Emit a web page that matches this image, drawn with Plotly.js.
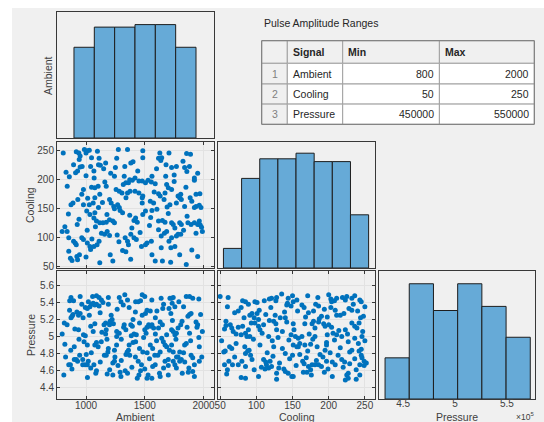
<!DOCTYPE html>
<html><head><meta charset="utf-8">
<script src="https://cdn.plot.ly/plotly-3.0.1.min.js"></script>
<style>html,body{margin:0;padding:0;background:#fff}#chart{width:544px;height:422px}</style>
</head><body><div id="chart"></div><script>
// ---------- data ----------
const signalNames = ['Ambient', 'Cooling', 'Pressure'];
const signalMin = [800, 50, 450000];
const signalMax = [2000, 250, 550000];
const tableHeader = ['', 'Signal', 'Min', 'Max'];
const tableTitle = 'Pulse Amplitude Ranges';

// histograms (bin edges + counts)
const ambientEdges = [800, 1000, 1200, 1400, 1600, 1800, 2000];
const ambientCounts = [36, 44, 44, 45, 45, 36];
const coolingEdges = [50, 75, 100, 125, 150, 175, 200, 225, 250];
const coolingCounts = [7, 32, 39, 39, 41, 38, 38, 19];
const pressureEdges = [440000, 460000, 480000, 500000, 520000, 540000, 560000];
const pressureCounts = [20, 56, 43, 56, 45, 30];

// scatter: Ambient vs Cooling
const acAmbient = [806,917,939,950,942,986,1011,1028,1000,1097,1047,1111,1106,1275,1353,1483,1483,1400,1381,1628,1617,1644,1636,1706,1681,1728,1856,1889,1825,1839,1858,1922,1769,
894,950,928,911,858,967,1039,1067,1069,1122,1167,1250,1242,1261,1317,1325,1339,1361,1372,1394,1417,1450,1478,1506,1528,1556,1589,1561,1678,1686,1700,1672,1728,1783,1806,1797,1886,1936,1969,1922,978,964,1047,1075,1103,1172,1256,1283,1306,1353,1375,1417,1450,1483,1478,1478,1547,1575,1617,1631,1664,1714,1769,1811,1839,1936,1964,1978,
872,889,978,1028,1061,1106,1075,1014,1117,1200,1214,1236,1269,1283,1242,1311,1372,1422,1408,1436,1483,1506,1561,1603,1617,1650,1672,1728,1742,1756,1797,1811,1867,1894,1922,1950,1964,1972,1983,1922,1006,1033,1067,1089,1117,1144,1172,1200,1228,1242,1178,1075,
797,839,853,894,908,917,853,867,881,928,944,964,978,1011,1033,1067,1039,1094,1111,1131,1158,1200,1206,1228,1311,1339,1333,1353,1361,1381,1408,1428,1472,1506,1519,1556,1589,1650,1617,1667,1686,1706,1728,1769,1783,1806,1722,1756,1797,1853,1950,1936,1561,1117,922,
830,1000,1150,1210,1330,1440,1600,1750,1880,1950,820,925,1010,1080,1180,1265,1390,1460,1540,1640,1830,1990,840,1160,1580,1750,1850,930,1140,1340,1690,1900,850,940,1290,1550,1700,1860,1050,1280,1640,1900,1000,1380,1720];
const acCooling = [245,247,245,240,234,251,249,250,245,248,237,236,225,251,251,249,237,230,228,245,236,237,232,245,225,220,244,243,231,220,213,202,222,
225,221,214,211,204,222,222,214,202,224,228,220,205,236,191,205,194,194,199,198,202,197,197,194,198,195,192,205,205,191,185,176,182,171,174,168,168,174,175,198,182,174,186,185,188,188,182,179,176,176,179,179,176,171,168,159,162,159,175,171,165,156,159,165,153,153,155,151,
156,159,156,156,159,151,168,167,174,165,159,153,156,151,149,142,138,133,129,126,139,145,146,148,128,129,126,125,122,116,125,122,125,122,125,122,128,121,117,151,145,139,133,128,125,125,126,130,128,125,139,142,
110,110,99,93,90,87,76,64,60,61,70,99,96,90,84,84,79,87,93,107,105,103,70,59,77,75,99,93,87,105,99,96,84,87,90,93,59,59,113,107,110,93,99,102,105,105,82,84,70,53,67,107,70,56,67,
212,206,218,210,222,214,218,207,222,210,118,122,112,118,110,104,116,108,120,102,112,110,188,195,178,196,186,165,160,168,152,162,140,131,146,134,141,136,97,92,82,78,66,62,57];

// scatter: Ambient vs Pressure
const apAmbient = [797,811,839,853,867,861,872,894,881,889,872,900,917,928,900,936,950,922,950,964,936,972,992,1011,972,1019,978,994,983,994,1011,1033,1047,1061,1075,1089,1111,1028,1011,1056,1089,1061,1075,1075,1089,1103,1067,1089,1083,1111,1131,1144,1153,1167,1167,1178,1172,1186,1172,1214,1228,1242,1242,1200,1222,1233,1261,1283,1261,1228,1297,1283,1297,1317,1339,1325,1333,1353,1353,1367,1367,1361,1372,1381,1394,1400,1422,1444,1464,1422,1408,1428,1436,1450,1464,1444,1472,1483,1478,1500,1478,1506,1500,1519,1533,1547,1561,1575,1519,1547,1603,1511,1547,1567,1519,1528,1567,1589,1611,1631,1617,1631,1625,1631,1644,1658,1672,1686,1639,1653,1672,1700,1686,1714,1728,1742,1733,1756,1706,1722,1728,1742,1756,1769,1728,1742,1742,1756,1769,1783,1797,1797,1811,1783,1806,1817,1819,1839,1853,1853,1881,1908,1867,1881,1894,1881,1894,1908,1922,1908,1922,1936,1950,1944,1964,1964,
1012,1180,1290,1560,1700,1870,
826,880,946,1002,1040,1121,1156,1201,1246,1272,1300,1340,1390,1420,1500,1540,1585,1660,1700,1770,1840,1875,1985,
820,870,940,1045,1130,1190,1260,1300,1350,1400,1455,1490,1520,1600,1710,1765,1830,1890,1960,
815,905,1040,1135,1205,1320,1385,1455,1590,1650,1735,1860,1990,
860,975,1120,1190,1265,1420,1590,1660,1830,1975,
1020,1190,1330,1560,1790,1960];
const apPressure = [503000,455000,514000,467000,467000,542000,546000,542000,524000,526000,522000,473000,473000,471000,488000,525000,527000,529000,547000,538000,508000,467000,467000,467000,473000,471000,502000,501000,494000,534000,533000,535000,538000,539000,537000,538000,536000,525000,490000,547000,548000,506000,515000,490000,493000,488000,467000,460000,457000,546000,543000,540000,514000,516000,503000,497000,478000,482000,508000,525000,469000,471000,484000,514000,520000,515000,506000,504000,500000,455000,453000,546000,541000,537000,508000,514000,460000,457000,543000,534000,490000,484000,478000,514000,512000,520000,541000,541000,542000,494000,503000,502000,451000,455000,460000,471000,467000,482000,549000,547000,525000,527000,508000,511000,514000,512000,514000,510000,531000,530000,530000,504000,490000,486000,451000,455000,465000,467000,478000,482000,510000,517000,457000,453000,498000,494000,490000,488000,545000,533000,471000,473000,502000,545000,545000,546000,539000,535000,533000,527000,508000,506000,502000,504000,490000,482000,471000,467000,463000,476000,482000,471000,473000,510000,514000,518000,457000,490000,492000,547000,547000,545000,524000,526000,527000,504000,478000,475000,467000,459000,453000,517000,514000,511000,488000,471000,
452000,456000,458000,451000,455000,458000,
476000,462000,478000,479000,463000,470000,478000,461000,476000,466000,472000,479000,464000,476000,462000,474000,478000,463000,466000,476000,470000,463000,476000,
491000,484000,497000,481000,494000,486000,490000,497000,482000,493000,486000,499000,481000,495000,484000,497000,481000,495000,499000,
516000,509000,512000,505000,518000,511000,501000,516000,503000,514000,519000,511000,506000,
531000,522000,528000,538000,532000,529000,522000,538000,535000,526000,
541000,546000,549000,543000,541000,544000];

// scatter: Cooling vs Pressure
const cpCooling = [50,61,81,89,79,75,98,101,111,121,128,127,135,144,150,143,142,151,163,166,171,179,186,190,203,204,211,219,223,225,232,236,243,234,228,232,203,211,216,
58,64,66,68,75,81,79,85,89,91,94,97,101,103,98,103,105,108,91,87,124,127,128,126,133,140,151,148,154,158,163,151,167,177,179,181,187,193,195,200,206,211,218,223,232,239,242,248,227,246,197,181,167,
57,55,66,62,56,67,75,80,85,88,84,94,97,103,85,59,110,114,117,119,124,121,128,131,128,140,144,149,151,150,156,158,164,166,170,165,172,177,181,186,190,194,188,195,197,209,218,222,225,227,229,232,241,242,245,243,246,249,252,243,223,227,140,
70,92,107,113,123,132,138,146,155,160,169,175,183,192,199,205,213,220,229,236,238,249,112,85,60,197,
52,63,72,90,96,105,115,122,136,145,160,171,178,184,202,208,216,236,245,250,130,175,
56,72,93,110,117,136,142,152,173,186,204,214,226,236,247,198,118,58,
60,70,83,104,113,120,139,148,157,168,172,194,198,209,221,240,244,250,182,
85,118,156,185,200,208,245,
79,176,205,238];
const cpPressure = [547000,546000,542000,538000,534000,530000,541000,540000,542000,545000,546000,542000,550000,545000,548000,539000,537000,541000,537000,534000,548000,530000,536000,524000,544000,541000,545000,546000,543000,547000,545000,548000,543000,538000,533000,531000,534000,525000,525000,
518000,514000,510000,506000,511000,512000,502000,504000,508000,525000,527000,522000,527000,520000,516000,512000,508000,504000,500000,500000,518000,515000,508000,525000,522000,522000,515000,502000,500000,498000,500000,490000,515000,515000,518000,510000,521000,515000,512000,514000,504000,502000,500000,508000,516000,510000,516000,524000,494000,500000,493000,500000,490000,
483000,482000,486000,471000,467000,467000,467000,471000,480000,483000,488000,473000,461000,453000,451000,456000,473000,467000,463000,471000,488000,465000,457000,463000,450000,459000,457000,453000,453000,478000,488000,488000,471000,468000,458000,458000,465000,467000,467000,467000,465000,458000,479000,484000,490000,467000,473000,470000,455000,457000,482000,484000,492000,483000,478000,467000,475000,471000,469000,455000,449000,451000,480000,
476000,478000,464000,470000,477000,469000,462000,474000,466000,479000,475000,461000,472000,476000,462000,470000,478000,464000,468000,474000,461000,466000,462000,465000,461000,471000,
495000,488000,492000,484000,497000,490000,481000,495000,486000,496000,492000,483000,497000,488000,481000,496000,487000,498000,485000,495000,499000,491000,
509000,503000,516000,514000,500000,506000,517000,508000,503000,517000,511000,507000,503000,512000,506000,502000,519000,513000,
535000,528000,522000,531000,526000,534000,529000,536000,530000,523000,528000,532000,523000,531000,527000,530000,522000,535000,538000,
541000,544000,543000,546000,549000,542000,541000,
452000,455000,453000,450000];

// axis ticks
const ambientTicks = [1000, 1500, 2000];
const coolingTicks = [50, 100, 150, 200, 250];
const pressureTicks = [440000, 460000, 480000, 500000, 520000, 540000, 560000];
const pressureTickText = ['4.4', '4.6', '4.8', '5', '5.2', '5.4', '5.6'];
const pressureXTicks = [450000, 500000, 550000];
const pressureXTickText = ['4.5', '5', '5.5'];

// ---------- layout helpers ----------
const W = 544, H = 422;
const fx = p => p / W, fy = p => 1 - p / H;
const col = [[57, 214], [218, 375], [379, 535]].map(c => [fx(c[0]), fx(c[1])]);
const row = [[12, 138], [142, 268], [271, 399]].map(r => [fy(r[1]), fy(r[0])]);
const ambRange = [753, 2089], coolRange = [47, 264], presRange = [426700, 577000];

const FONT = 'Liberation Sans, Arial, sans-serif';
const BOX = '#383838';
const TXT = '#404040';
function scatAx(o) {
  return Object.assign({
    showline: true, linecolor: BOX, linewidth: 1, mirror: 'ticks',
    ticks: 'inside', ticklen: 3, tickwidth: 1, tickcolor: BOX,
    showgrid: true, gridcolor: '#e2e2e2', gridwidth: 1, zeroline: false,
    tickfont: {family: FONT, size: 10, color: TXT}, fixedrange: true
  }, o);
}
function histAx(o) {
  return Object.assign({
    showline: true, linecolor: BOX, linewidth: 1, mirror: true,
    ticks: '', showgrid: false, zeroline: false, showticklabels: false, fixedrange: true
  }, o);
}
const centers = e => e.slice(0, -1).map((v, i) => (v + e[i + 1]) / 2);
const widths = e => e.slice(0, -1).map((v, i) => e[i + 1] - v);

const dot = {color: '#0072bd', size: 5};
const barStyle = {color: '#66aad7', line: {color: '#1e1e1e', width: 1}};

const traces = [
  {type: 'scatter', mode: 'markers', x: acAmbient, y: acCooling, xaxis: 'x', yaxis: 'y', marker: dot, hoverinfo: 'skip'},
  {type: 'scatter', mode: 'markers', x: apAmbient, y: apPressure, xaxis: 'x2', yaxis: 'y2', marker: dot, hoverinfo: 'skip'},
  {type: 'scatter', mode: 'markers', x: cpCooling, y: cpPressure, xaxis: 'x3', yaxis: 'y3', marker: dot, hoverinfo: 'skip'},
  {type: 'bar', x: centers(ambientEdges), y: ambientCounts, width: widths(ambientEdges), xaxis: 'x4', yaxis: 'y4', marker: barStyle, hoverinfo: 'skip'},
  {type: 'bar', x: centers(coolingEdges), y: coolingCounts, width: widths(coolingEdges), xaxis: 'x5', yaxis: 'y5', marker: barStyle, hoverinfo: 'skip'},
  {type: 'bar', x: centers(pressureEdges), y: pressureCounts, width: widths(pressureEdges), xaxis: 'x6', yaxis: 'y6', marker: barStyle, hoverinfo: 'skip'},
  {type: 'scatter', mode: 'markers', x: [], y: [], xaxis: 'x7', yaxis: 'y6', hoverinfo: 'skip'}
];

function ann(text, x, y, o) {
  return Object.assign({text: text, xref: 'paper', yref: 'paper', x: fx(x), y: fy(y),
    xanchor: 'center', yanchor: 'middle', showarrow: false,
    font: {family: FONT, size: 10.5, color: TXT}}, o);
}

// ---------- table (drawn with shapes + text) ----------
const tx = [261.7, 287.3, 342.7, 439.4, 534.3];   // column edges (px)
const ty = [40.7, 63.3, 84, 104.1, 124.3];        // row edges (px)
const shapes = [
  {type: 'rect', xref: 'paper', yref: 'paper', x0: fx(12), x1: 1, y0: 0, y1: fy(8),
   fillcolor: '#f0f0f0', line: {width: 0}, layer: 'below'}
];
const annotations = [];
const tableRows = [tableHeader].concat(signalNames.map((n, i) => [String(i + 1), n, String(signalMin[i]), String(signalMax[i])]));
tableRows.forEach((r, ri) => {
  r.forEach((v, ci) => {
    const grayCell = ri === 0 || ci === 0;
    shapes.push({type: 'rect', xref: 'paper', yref: 'paper',
      x0: fx(tx[ci]), x1: fx(tx[ci + 1]), y0: fy(ty[ri + 1]), y1: fy(ty[ri]),
      fillcolor: grayCell ? '#f0f0f0' : '#ffffff', line: {color: '#a0a0a0', width: 1}, layer: 'below'});
    if (v === '') return;
    const yc = (ty[ri] + ty[ri + 1]) / 2;
    let x, anchor;
    if (ci === 0) { x = (tx[0] + tx[1]) / 2; anchor = 'center'; }
    else if (ri > 0 && ci >= 2) { x = tx[ci + 1] - 3.5; anchor = 'right'; }
    else { x = tx[ci] + 3.5; anchor = 'left'; }
    annotations.push(ann(ri === 0 ? '<b>' + v + '</b>' : v, x, yc, {xanchor: anchor,
      font: {family: FONT, size: 10.5, color: (ci === 0 && ri > 0) ? '#808080' : '#262626'}}));
  });
});
shapes.push({type: 'rect', xref: 'paper', yref: 'paper', x0: fx(tx[0]), x1: fx(tx[4]), y0: fy(ty[4]), y1: fy(ty[0]),
  line: {color: '#7a7a7a', width: 1}, layer: 'below'});

annotations.push(
  ann(tableTitle, 261.5, 23.5, {xanchor: 'left', font: {family: FONT, size: 10.5, color: '#262626'}}),
  ann('Ambient', 47.5, 75.5, {textangle: -90}),
  ann('Cooling', 30, 205, {textangle: -90}),
  ann('Pressure', 31, 335, {textangle: -90}),
  ann('Ambient', 135.5, 417),
  ann('Cooling', 296.5, 417),
  ann('Pressure', 457, 417),
  ann('×10<sup>5</sup>', 536, 416, {xanchor: 'right', font: {family: FONT, size: 8.5, color: TXT}})
);

const layout = {
  width: W, height: H, margin: {l: 0, r: 0, t: 0, b: 0},
  paper_bgcolor: '#ffffff', plot_bgcolor: '#ffffff', showlegend: false, bargap: 0,
  xaxis: scatAx({domain: col[0], anchor: 'y', range: ambRange, tickvals: ambientTicks, showticklabels: false}),
  yaxis: scatAx({domain: row[1], anchor: 'x', range: coolRange, tickvals: coolingTicks}),
  xaxis2: scatAx({domain: col[0], anchor: 'y2', range: ambRange, tickvals: ambientTicks, ticklabelstandoff: -3}),
  yaxis2: scatAx({domain: row[2], anchor: 'x2', range: presRange, tickvals: pressureTicks, ticktext: pressureTickText}),
  xaxis3: scatAx({domain: col[1], anchor: 'y3', range: coolRange, tickvals: coolingTicks, ticklabelstandoff: -3}),
  yaxis3: scatAx({domain: row[2], anchor: 'x3', range: presRange, tickvals: pressureTicks, showticklabels: false}),
  xaxis4: histAx({domain: col[0], anchor: 'y4', range: [633, 2177]}),
  yaxis4: histAx({domain: row[0], anchor: 'x4', range: [0, 50]}),
  xaxis5: histAx({domain: col[1], anchor: 'y5', range: [42.5, 258.8]}),
  yaxis5: histAx({domain: row[1], anchor: 'x5', range: [0, 45]}),
  xaxis6: histAx({domain: col[2], anchor: 'y6', range: [435000, 563900]}),
  yaxis6: histAx({domain: row[2], anchor: 'x6', range: [0, 62.2]}),
  xaxis7: {overlaying: 'x6', anchor: 'y6', range: presRange, tickvals: pressureXTicks, ticktext: pressureXTickText,
    showline: false, showgrid: false, zeroline: false, ticks: '', fixedrange: true, ticklabelstandoff: -3,
    tickfont: {family: FONT, size: 10, color: TXT}},
  shapes: shapes,
  annotations: annotations
};

Plotly.newPlot('chart', traces, layout, {displayModeBar: false, staticPlot: true});
</script></body></html>
